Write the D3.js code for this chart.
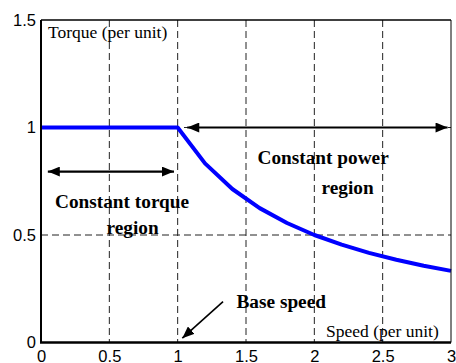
<!DOCTYPE html>
<html><head><meta charset="utf-8">
<script src="https://cdn.jsdelivr.net/npm/d3@7"></script>
<style>html,body{margin:0;padding:0;background:#fff;}svg{display:block;}</style>
</head><body>
<script>
const speed = [0, 1, 1.2, 1.4, 1.6, 1.8, 2, 2.2, 2.4, 2.6, 2.8, 3];
const torque = [1, 1, 0.833, 0.714, 0.625, 0.556, 0.5, 0.455, 0.417, 0.385, 0.357, 0.333];
const xTicks = [0, 0.5, 1, 1.5, 2, 2.5, 3];
const yTicks = [0, 0.5, 1, 1.5];
const xGrid = [0.5, 1, 1.5, 2, 2.5];
const yGrid = [0.5, 1];

const W = 456, H = 363;
const x = d3.scaleLinear().domain([0, 3]).range([41, 451]);
const y = d3.scaleLinear().domain([0, 1.5]).range([342.5, 20]);

const svg = d3.select("body").append("svg").attr("width", W).attr("height", H);
const defs = svg.append("defs");
defs.append("marker").attr("id", "ah").attr("viewBox", "0 0 12 10")
  .attr("refX", 12).attr("refY", 5).attr("markerWidth", 13).attr("markerHeight", 10)
  .attr("markerUnits", "userSpaceOnUse").attr("orient", "auto-start-reverse")
  .append("path").attr("d", "M0,0 L12,5 L0,10 Z").attr("fill", "#000");
defs.append("marker").attr("id", "ah2").attr("viewBox", "0 0 12 10")
  .attr("refX", 12).attr("refY", 5).attr("markerWidth", 12).attr("markerHeight", 10)
  .attr("markerUnits", "userSpaceOnUse").attr("orient", "auto")
  .append("path").attr("d", "M0,0 L12,5 L0,10 Z").attr("fill", "#000");

// grid
svg.selectAll(".vg").data(xGrid).enter().append("line")
  .attr("x1", d => x(d)).attr("x2", d => x(d)).attr("y1", y(1.5)).attr("y2", y(0))
  .attr("stroke", "#222").attr("stroke-width", 1).attr("stroke-dasharray", "7,4");
svg.selectAll(".hg").data(yGrid).enter().append("line")
  .attr("y1", d => y(d)).attr("y2", d => y(d)).attr("x1", x(0)).attr("x2", x(3))
  .attr("stroke", "#222").attr("stroke-width", 1).attr("stroke-dasharray", "7,4");

// curve
const line = d3.line().x((d, i) => x(speed[i])).y(d => y(d));
svg.append("path").datum(torque).attr("d", line).attr("fill", "none")
  .attr("stroke", "#0000ff").attr("stroke-width", 4).attr("stroke-linejoin", "round");

// arrows
svg.append("line").attr("x1", x(1.07)).attr("x2", x(2.975)).attr("y1", y(1)).attr("y2", y(1))
  .attr("stroke", "#000").attr("stroke-width", 2.2)
  .attr("marker-start", "url(#ah)").attr("marker-end", "url(#ah)");
svg.append("line").attr("x1", x(0.05)).attr("x2", x(0.973)).attr("y1", y(0.795)).attr("y2", y(0.795))
  .attr("stroke", "#000").attr("stroke-width", 2.2)
  .attr("marker-start", "url(#ah)").attr("marker-end", "url(#ah)");
svg.append("line").attr("x1", x(1.332)).attr("x2", x(1.034)).attr("y1", y(0.19)).attr("y2", y(0.02))
  .attr("stroke", "#000").attr("stroke-width", 1.6)
  .attr("marker-end", "url(#ah2)");

// frame
svg.append("line").attr("x1", x(0)).attr("x2", x(3)).attr("y1", y(1.5)).attr("y2", y(1.5)).attr("stroke", "#000").attr("stroke-width", 1.5);
svg.append("line").attr("x1", x(3)).attr("x2", x(3)).attr("y1", y(1.5)).attr("y2", y(0)).attr("stroke", "#000").attr("stroke-width", 1);
svg.append("line").attr("x1", x(0)).attr("x2", x(0)).attr("y1", y(1.5)).attr("y2", y(0)).attr("stroke", "#000").attr("stroke-width", 2);
svg.append("line").attr("x1", x(0) - 1).attr("x2", x(3)).attr("y1", y(0)).attr("y2", y(0)).attr("stroke", "#000").attr("stroke-width", 2.5);

// tick labels
const fmt = d => String(d);
svg.append("g").attr("transform", `translate(0,${y(0)})`)
  .call(d3.axisBottom(x).tickValues(xTicks).tickSize(0).tickPadding(7.5).tickFormat(fmt))
  .call(g => g.select(".domain").remove())
  .selectAll("text").attr("font-family", "Liberation Sans, Arial, sans-serif").attr("font-size", 16.5).attr("fill", "#000");
svg.append("g").attr("transform", `translate(${x(0)},0)`)
  .call(d3.axisLeft(y).tickValues(yTicks).tickSize(0).tickPadding(5).tickFormat(fmt))
  .call(g => g.select(".domain").remove())
  .selectAll("text").attr("font-family", "Liberation Sans, Arial, sans-serif").attr("font-size", 16.5).attr("fill", "#000");

// annotations
const serif = "Liberation Serif, Times New Roman, serif";
function txt(t, px, py, size, bold, anchor) {
  svg.append("text").attr("x", px).attr("y", py).text(t)
    .attr("font-family", serif).attr("font-size", size)
    .attr("font-weight", bold ? "bold" : "normal").attr("text-anchor", anchor || "start").attr("fill", "#000");
}
txt("Torque (per unit)", 48, 38, 17.5, false);
txt("Speed (per unit)", 326, 336.5, 17.5, false);
txt("Constant power", 257.5, 164, 19.3, true);
txt("region", 321.5, 194, 19.3, true);
txt("Constant torque", 55, 208, 19.3, true);
txt("region", 106.5, 234, 19.3, true);
txt("Base speed", 236.5, 308, 19.3, true);
</script>
</body></html>
